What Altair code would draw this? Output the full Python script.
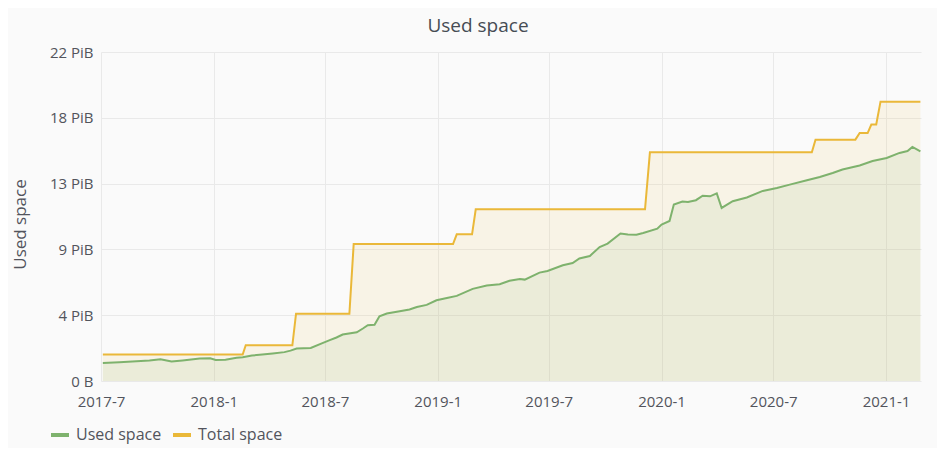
import altair as alt
import pandas as pd

# Used space (PiB)
used_dates = [
    "2017-07-04", "2017-07-31", "2017-09-18", "2017-10-06", "2017-10-24", "2017-11-11",
    "2017-12-09", "2017-12-26", "2018-01-04", "2018-01-20", "2018-02-07", "2018-02-17",
    "2018-03-04", "2018-03-21", "2018-04-07", "2018-04-26", "2018-05-06", "2018-05-16",
    "2018-06-08", "2018-06-27", "2018-07-09", "2018-07-20", "2018-07-30", "2018-08-22",
    "2018-09-01", "2018-09-09", "2018-09-20", "2018-09-28", "2018-10-10", "2018-10-31",
    "2018-11-16", "2018-11-28", "2018-12-14", "2018-12-30", "2019-01-16", "2019-02-01",
    "2019-02-27", "2019-03-22", "2019-04-12", "2019-04-28", "2019-05-15", "2019-05-23",
    "2019-06-16", "2019-06-29", "2019-07-24", "2019-08-09", "2019-08-20", "2019-09-06",
    "2019-09-22", "2019-10-05", "2019-10-26", "2019-11-07", "2019-11-21", "2019-12-02",
    "2019-12-25", "2020-01-01", "2020-01-14", "2020-01-21", "2020-02-04", "2020-02-13",
    "2020-02-26", "2020-03-08", "2020-03-20", "2020-03-31", "2020-04-08", "2020-04-26",
    "2020-05-19", "2020-06-14", "2020-07-07", "2020-07-28", "2020-08-25", "2020-09-15",
    "2020-10-06", "2020-10-22", "2020-11-19", "2020-12-10", "2021-01-02", "2021-01-23",
    "2021-02-05", "2021-02-13", "2021-02-26",
]
used_values = [
    1.21, 1.26, 1.37, 1.46, 1.30, 1.37,
    1.50, 1.52, 1.40, 1.42, 1.56, 1.59,
    1.70, 1.77, 1.84, 1.93, 2.03, 2.17,
    2.21, 2.53, 2.73, 2.91, 3.11, 3.26,
    3.51, 3.73, 3.76, 4.33, 4.51, 4.67,
    4.78, 4.95, 5.09, 5.40, 5.55, 5.69,
    6.16, 6.38, 6.47, 6.70, 6.82, 6.78,
    7.25, 7.36, 7.74, 7.89, 8.19, 8.36,
    8.96, 9.19, 9.86, 9.79, 9.78, 9.90,
    10.19, 10.46, 10.70, 11.80, 12.00, 11.97,
    12.09, 12.39, 12.35, 12.55, 11.57, 12.02,
    12.27, 12.71, 12.91, 13.13, 13.42, 13.64,
    13.91, 14.14, 14.41, 14.71, 14.91, 15.25,
    15.38, 15.65, 15.36,
]

# Total space (PiB)
total_dates = [
    "2017-07-04", "2018-02-17", "2018-02-22", "2018-05-09", "2018-05-15", "2018-08-10",
    "2018-08-17", "2019-01-26", "2019-02-01", "2019-02-26", "2019-03-04", "2019-12-05",
    "2019-12-13", "2020-09-02", "2020-09-08", "2020-11-12", "2020-11-19", "2020-12-02",
    "2020-12-08", "2020-12-16", "2020-12-23", "2021-02-26",
]
total_values = [
    1.77, 1.77, 2.39, 2.39, 4.50, 4.50,
    9.16, 9.16, 9.81, 9.81, 11.48, 11.48,
    15.29, 15.29, 16.14, 16.14, 16.58, 16.58,
    17.15, 17.15, 18.68, 18.68,
]

series_names = ["Used space", "Total space"]
series_colors = ["#7EB26D", "#EAB839"]
y_ticks = [0, 4.4, 8.8, 13.2, 17.6, 22]
x_ticks = ["2017-07-01", "2018-01-01", "2018-07-01", "2019-01-01", "2019-07-01",
           "2020-01-01", "2020-07-01", "2021-01-01"]

used_df = pd.DataFrame({"date": used_dates, "value": used_values, "series": "Used space"})
total_df = pd.DataFrame({"date": total_dates, "value": total_values, "series": "Total space"})
df = pd.concat([used_df, total_df], ignore_index=True)

FONT = "Open Sans"
TXT = "#52545c"

x_enc = alt.X(
    "date:T",
    scale=alt.Scale(type="utc", domain=["2017-07-01", "2021-02-27"]),
    axis=alt.Axis(
        title=None,
        values=[alt.DateTime(year=int(d[:4]), month=int(d[5:7]), date=1, utc=True) for d in x_ticks],
        labelExpr="utcFormat(datum.value, '%Y') + '-' + (utcmonth(datum.value) + 1)",
        labelPadding=13,
        labelFlush=False,
        labelOverlap=False,
    ),
)
y_enc = alt.Y(
    "value:Q",
    scale=alt.Scale(domain=[0, 22], nice=False, zero=True),
    axis=alt.Axis(
        title="Used space",
        values=y_ticks,
        labelExpr="datum.value == 0 ? '0 B' : format(datum.value, '.0f') + ' PiB'",
        labelPadding=8,
        titleX=-81,
        titleY=172,
        titleBaseline="middle",
        titleAngle=270,
    ),
)

base = alt.Chart(df)

area_total = base.transform_filter(alt.datum.series == "Total space").mark_area(
    color="#EAB839", opacity=0.1, interpolate="linear"
).encode(x=x_enc, y=y_enc)

area_used = base.transform_filter(alt.datum.series == "Used space").mark_area(
    color="#7EB26D", opacity=0.1, interpolate="linear"
).encode(x=x_enc, y=y_enc)

lines = base.mark_line(strokeWidth=2).encode(
    x=x_enc,
    y=y_enc,
    color=alt.Color(
        "series:N",
        scale=alt.Scale(domain=series_names, range=series_colors),
        sort=series_names,
        legend=alt.Legend(
            title=None,
            orient="none",
            legendX=-52,
            legendY=372,
            direction="horizontal",
            symbolType="stroke",
            symbolSize=324,
            symbolStrokeWidth=4,
            labelFontSize=16,
            labelFont=FONT,
            labelColor=TXT,
            labelOffset=5,
            columnPadding=3,
        ),
    ),
    detail="series:N",
)

chart = alt.layer(area_total, area_used, lines).properties(
    width=820,
    height=329,
    autosize=alt.AutoSizeParams(type="none"),
    padding={"left": 93, "top": 44, "right": 16, "bottom": 67},
    background="#fafafa",
    title=alt.TitleParams(
        "Used space",
        font=FONT,
        fontSize=19,
        fontWeight=500,
        color="#464c54",
        anchor="middle",
        dx=-33,
        offset=9,
    ),
).configure_view(stroke=None).configure_axis(
    labelFont=FONT,
    labelFontSize=15,
    labelColor=TXT,
    titleFont=FONT,
    titleFontSize=17,
    titleFontWeight="normal",
    titleColor=TXT,
    domain=False,
    ticks=False,
    grid=True,
    gridColor="#e9e9e9",
    gridWidth=1,
)

chart.save("out.html", embed_options={"renderer": "svg", "actions": False})
